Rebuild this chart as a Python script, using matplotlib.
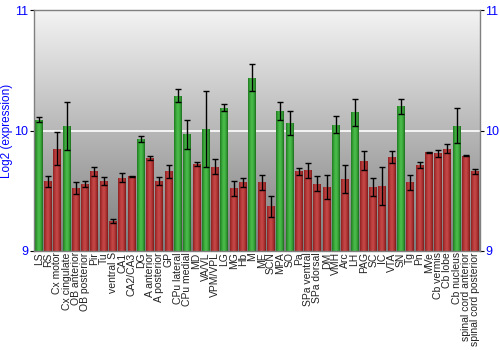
import numpy as np
import matplotlib
matplotlib.use("Agg")
import matplotlib.pyplot as plt
from matplotlib.colors import LinearSegmentedColormap

plt.rcParams['font.family'] = ['Liberation Sans', 'DejaVu Sans']

regions = ["LS", "RS", "Cx motor", "Cx cingulate", "OB anterior", "OB posterior",
           "Pir", "Tu", "ventral S", "CA1", "CA2/CA3", "DG", "A anterior",
           "A posterior", "GP", "CPu lateral", "CPu medial", "MD", "VA/VL",
           "VPM/VPL", "LG", "MG", "Hb", "M", "ME", "SCN", "MPA", "SO", "Pa",
           "SPa ventral", "SPa dorsal", "DM", "VMH", "Arc", "LH", "PAG", "SC",
           "IC", "VTA", "SN", "Tg", "Pn", "MVe", "Cb vermis", "Cb lobe",
           "Cb nucleus", "spinal cord anterior", "spinal cord posterior"]

expression = [10.09, 9.58, 9.85, 10.04, 9.52, 9.56, 9.66, 9.58, 9.25, 9.61,
              9.62, 9.93, 9.77, 9.58, 9.66, 10.29, 9.97, 9.72, 10.01, 9.70,
              10.19, 9.52, 9.57, 10.44, 9.57, 9.37, 10.16, 10.06, 9.66, 9.67,
              9.56, 9.53, 10.05, 9.60, 10.15, 9.75, 9.53, 9.54, 9.78, 10.20,
              9.57, 9.71, 9.82, 9.81, 9.85, 10.04, 9.79, 9.66]

error = [0.02, 0.045, 0.135, 0.20, 0.05, 0.025, 0.035, 0.035, 0.015, 0.037,
         0.005, 0.025, 0.016, 0.035, 0.05, 0.055, 0.12, 0.015, 0.315, 0.06,
         0.03, 0.065, 0.035, 0.11, 0.06, 0.09, 0.076, 0.10, 0.03, 0.064,
         0.066, 0.10, 0.07, 0.115, 0.115, 0.08, 0.073, 0.16, 0.047, 0.06,
         0.06, 0.025, 0.003, 0.027, 0.036, 0.146, 0.005, 0.022]

y_ticks = [9, 10, 11]
y_min, y_max = 9, 11
high_threshold = 9.9

green_map = LinearSegmentedColormap.from_list(
    "g", ["#1f7a1f", "#3aa63a", "#4cbf4c", "#3aa63a", "#1e6e1e"])
red_map = LinearSegmentedColormap.from_list(
    "r", ["#8e2222", "#b53838", "#c84a4a", "#b03434", "#7f1c1c"])

fig = plt.figure(figsize=(5, 3.5), dpi=100)
ax = fig.add_axes([0.068, 0.283, 0.892, 0.688])

n = len(regions)
x = np.arange(n)
ax.set_xlim(-0.5, n - 0.5)
ax.set_ylim(y_min, y_max)

# vertical grey gradient behind the bars
bg = LinearSegmentedColormap.from_list("bg", ["#7c7c7c", "#f3f3f3"])
grad = np.linspace(0, 1, 256).reshape(-1, 1)
ax.imshow(grad, cmap=bg, aspect="auto", origin="lower",
          extent=(-0.5, n - 0.5, y_min, y_max), zorder=0)

ax.axhline(10, color="white", lw=1.2, zorder=1)

width = 0.86
bars = ax.bar(x, np.array(expression) - y_min, bottom=y_min, width=width,
              color="none", edgecolor="none", zorder=2)
hgrad = np.linspace(0, 1, 64).reshape(1, -1)
for xi, val, b in zip(x, expression, bars):
    cmap = green_map if val > high_threshold else red_map
    im = ax.imshow(hgrad, cmap=cmap, aspect="auto",
                   extent=(xi - width / 2, xi + width / 2, y_min, val), zorder=2)
    im.set_clip_path(b)

ax.errorbar(x, expression, yerr=error, fmt="none", ecolor="black",
            elinewidth=1, capsize=2.5, capthick=1, zorder=3)

ax.set_xticks(x)
ax.set_xticklabels(regions, rotation=90, fontsize=7.5, color="#222222")
ax.tick_params(axis="x", length=0, pad=1)

ax.set_yticks(y_ticks)
ax.set_yticklabels([str(t) for t in y_ticks])
ax.tick_params(axis="y", which="both", left=True, right=True,
               labelleft=True, labelright=True, labelcolor="blue",
               labelsize=9, length=3, color="black", pad=1)
ax.set_ylabel("Log2 (expression)", color="blue", fontsize=8.5, labelpad=1)

for s in ax.spines.values():
    s.set_color("#808080")
    s.set_linewidth(1)

fig.savefig("out.png", dpi=100)
